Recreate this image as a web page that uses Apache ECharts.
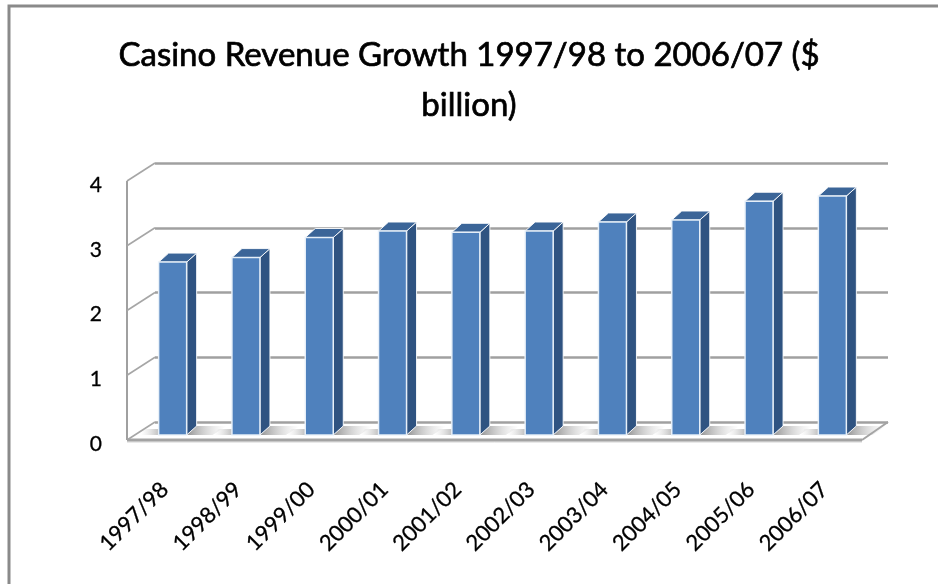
<!DOCTYPE html>
<html>
<head>
<meta charset="utf-8">
<script src="https://cdn.jsdelivr.net/npm/echarts@6/dist/echarts.min.js"></script>
<style>html,body{margin:0;padding:0;background:#fff;}#c{width:938px;height:584px;}</style>
</head>
<body>
<div id="c"></div>
<script>
const categories = ['1997/98','1998/99','1999/00','2000/01','2001/02','2002/03','2003/04','2004/05','2005/06','2006/07'];
const revenue = [2.67, 2.74, 3.05, 3.15, 3.13, 3.15, 3.29, 3.32, 3.61, 3.69];
const yTicks = [0, 1, 2, 3, 4];
const titleText = 'Casino Revenue Growth 1997/98 to 2006/07 ($\nbillion)';

const FONT = 'Lato';
const chart = echarts.init(document.getElementById('c'), null, {renderer: 'canvas'});

function renderWall(params, api) {
  const cs = params.coordSys;
  const v = api.value(1);
  const p = api.coord([0, v]);
  const bx = cs.x, by = p[1];
  const fx = bx - 28, fy = by + 18;
  const children = [{
    type: 'line',
    shape: {x1: fx, y1: fy, x2: bx, y2: by},
    style: {stroke: '#a6a6a6', lineWidth: 1.6}
  }];
  if (v === 0) {
    const topP = api.coord([0, yTicks[yTicks.length - 1]]);
    children.push({
      type: 'line',
      shape: {x1: fx, y1: topP[1] + 18, x2: fx, y2: fy},
      style: {stroke: '#a0a0a0', lineWidth: 2}
    });
    const rx = cs.x + cs.width;
    children.push({
      type: 'line',
      shape: {x1: fx, y1: fy + 2, x2: rx - 26, y2: fy + 2},
      style: {stroke: '#d4d4d4', lineWidth: 1}
    });
    children.push({
      type: 'line',
      shape: {x1: fx, y1: fy, x2: rx - 26, y2: fy},
      style: {stroke: '#a3a3a3', lineWidth: 3}
    });
    children.push({
      type: 'line',
      shape: {x1: rx - 26, y1: fy, x2: rx, y2: by},
      style: {stroke: '#a3a3a3', lineWidth: 2}
    });
  }
  return {type: 'group', children: children};
}

function renderBar(params, api) {
  const i = api.value(0), v = api.value(1);
  const t = api.coord([i, v]);
  const b = api.coord([i, 0]);
  const cx = t[0] - 19, yT = t[1] + 13, yB = b[1] + 13;
  const hw = 14, dx = 10, dy = 9;
  const l = cx - hw, r = cx + hw;
  const shadowR = new echarts.graphic.LinearGradient(0, 0, 1, 0, [
    {offset: 0, color: 'rgba(110,110,110,0.75)'},
    {offset: 1, color: 'rgba(200,200,200,0)'}
  ]);
  const shadowL = new echarts.graphic.LinearGradient(0, 0, 1, 0, [
    {offset: 0, color: 'rgba(200,200,200,0)'},
    {offset: 1, color: 'rgba(150,150,150,0.6)'}
  ]);
  return {
    type: 'group',
    children: [
      {type: 'polygon', shape: {points: [[r, yB], [r + dx, yB - dy], [r + dx + 30, yB - dy], [r + 26, yB]]}, style: {fill: shadowR}},
      {type: 'polygon', shape: {points: [[l - 18, yB], [l - 14, yB - 6], [l, yB - 6], [l, yB]]}, style: {fill: shadowL}},
      {type: 'polygon', shape: {points: [[r, yT], [r + dx, yT - dy], [r + dx, yB - dy], [r, yB]]}, style: {fill: '#2f5381', stroke: 'rgba(255,255,255,0.9)', lineWidth: 1}},
      {type: 'polygon', shape: {points: [[l, yT], [l + dx, yT - dy], [r + dx, yT - dy], [r, yT]]}, style: {fill: '#3b6598', stroke: 'rgba(255,255,255,0.9)', lineWidth: 1}},
      {type: 'rect', shape: {x: l, y: yT, width: 2 * hw, height: yB - yT}, style: {fill: '#4f81bd', stroke: 'rgba(235,242,250,0.95)', lineWidth: 1.5}}
    ]
  };
}

const option = {
  backgroundColor: '#ffffff',
  animation: false,
  title: {
    text: titleText,
    left: 'center',
    top: 25,
    textStyle: {fontFamily: FONT, fontSize: 33, fontWeight: 'normal', color: '#000', lineHeight: 50,
                textBorderColor: '#000', textBorderWidth: 0.7}
  },
  graphic: [{
    type: 'rect', silent: true,
    shape: {x: 9, y: 6, width: 1200, height: 1200},
    style: {fill: 'none', stroke: '#8a8a8a', lineWidth: 3}
  }],
  grid: [
    {left: 155, width: 733, top: 163, height: 259},
    {left: 128, width: 733, top: 163, height: 277}
  ],
  xAxis: [
    {type: 'category', gridIndex: 0, data: categories, boundaryGap: true,
     axisLine: {show: false}, axisTick: {show: false}, axisLabel: {show: false}, splitLine: {show: false}},
    {type: 'category', gridIndex: 1, data: categories, boundaryGap: true,
     axisLine: {show: false}, axisTick: {show: false}, splitLine: {show: false},
     axisLabel: {interval: 0, rotate: 45, margin: 46, fontFamily: FONT, fontSize: 22, color: '#000',
                 textBorderColor: '#000', textBorderWidth: 0.3}}
  ],
  yAxis: [
    {type: 'value', gridIndex: 0, min: 0, max: 4, interval: 1,
     axisLine: {show: false}, axisTick: {show: false},
     splitLine: {show: true, lineStyle: {color: '#a0a0a0', width: 2.5}},
     axisLabel: {margin: 53, fontFamily: FONT, fontSize: 21, color: '#000', verticalAlign: 'top', lineHeight: 44,
                 textBorderColor: '#000', textBorderWidth: 0.3}},
    {type: 'value', gridIndex: 1, min: 0, max: 4, interval: 1, show: false}
  ],
  series: [
    {type: 'custom', xAxisIndex: 0, yAxisIndex: 0, renderItem: renderWall, clip: false, z: 1,
     data: yTicks.map(v => [0, v]), encode: {x: 0, y: 1}, silent: true},
    {type: 'custom', xAxisIndex: 0, yAxisIndex: 0, renderItem: renderBar, clip: false, z: 3,
     data: revenue.map((v, i) => [i, v]), encode: {x: 0, y: 1}}
  ]
};
chart.setOption(option);
</script>
</body>
</html>
